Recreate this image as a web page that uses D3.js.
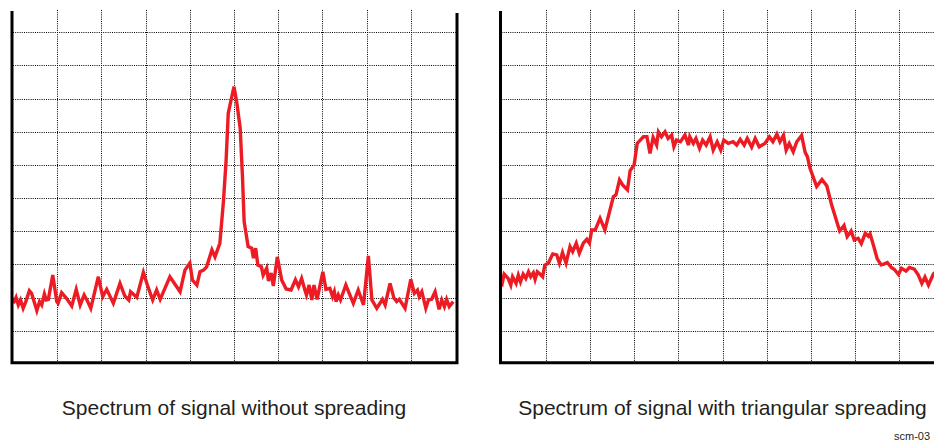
<!DOCTYPE html>
<html lang="en">
<head>
  <meta charset="utf-8">
  <script src="https://d3js.org/d3.v7.min.js"></script>
  <style>
    body {
      margin: 0;
      background: #fff;
    }
    #chart text {
      font-family: "Liberation Sans", Arial, Helvetica, sans-serif;
      fill: #231f20;
    }
    .grid line {
      stroke: #000;
      stroke-width: 1;
      stroke-dasharray: 1, 1.2;
    }
    .frame {
      fill: none;
      stroke: #000;
      stroke-width: 3;
    }
    .trace {
      fill: none;
      stroke: #ed1c24;
      stroke-width: 3.4;
      stroke-linejoin: miter;
    }
    .caption {
      font-size: 21px;
    }
    .code {
      font-size: 11px;
    }
  </style>
</head>
<body>
  <svg id="chart" width="934" height="442"></svg>
  <script>
    // spectrum traces, x and y in screen divisions (10 x 10 grid)
    var plainSpectrum = [
      [0.01,1.83],[0.07,2.01],[0.12,1.78],[0.17,1.93],[0.23,1.68],[0.29,1.88],[0.37,2.21],[0.42,2.13],
      [0.54,1.61],[0.60,1.88],[0.65,1.78],[0.71,2.11],[0.75,1.93],[0.80,1.95],[0.90,2.68],[0.99,1.88],
      [1.02,1.83],[1.10,2.15],[1.21,1.98],[1.33,1.75],[1.43,2.25],[1.52,1.78],[1.61,2.08],[1.68,1.91],
      [1.76,1.68],[1.93,2.63],[2.03,2.03],[2.12,2.25],[2.27,1.83],[2.42,2.43],[2.53,2.05],[2.62,1.93],
      [2.66,2.18],[2.80,2.01],[2.95,2.76],[3.04,2.38],[3.16,1.93],[3.25,2.23],[3.33,1.95],[3.55,2.63],
      [3.78,2.18],[3.89,2.83],[4.00,3.04],[4.06,2.53],[4.16,2.38],[4.23,2.78],[4.31,2.83],[4.38,2.93],
      [4.50,3.44],[4.57,3.23],[4.68,3.64],[4.76,4.89],[4.82,6.10],[4.87,7.56],[5.00,8.36],[5.06,7.91],
      [5.14,7.11],[5.19,5.70],[5.23,4.29],[5.32,3.54],[5.40,3.49],[5.44,3.19],[5.49,3.49],[5.54,2.98],
      [5.62,2.93],[5.66,2.68],[5.74,2.89],[5.78,2.50],[5.84,2.74],[5.89,2.35],[5.98,3.23],[6.08,2.53],
      [6.18,2.26],[6.29,2.23],[6.39,2.54],[6.46,2.33],[6.53,2.58],[6.61,2.20],[6.64,2.08],[6.70,2.38],
      [6.76,1.93],[6.81,2.38],[6.88,1.95],[7.01,2.78],[7.08,2.25],[7.17,2.28],[7.23,2.03],[7.27,2.18],
      [7.31,1.88],[7.36,2.08],[7.41,1.93],[7.53,2.38],[7.70,1.83],[7.81,2.23],[7.93,1.78],[8.04,3.26],
      [8.12,1.93],[8.23,1.68],[8.36,1.95],[8.42,1.78],[8.53,2.43],[8.62,1.98],[8.68,1.88],[8.74,1.95],
      [8.87,1.68],[9.00,2.55],[9.08,2.13],[9.15,2.23],[9.19,2.03],[9.25,2.18],[9.34,1.68],[9.40,1.93],
      [9.47,1.95],[9.55,2.18],[9.64,1.65],[9.70,1.93],[9.76,1.73],[9.81,1.95],[9.87,1.73],[9.96,1.88]
    ];

    var spreadSpectrum = [
      [0.00,2.33],[0.06,2.71],[0.15,2.58],[0.21,2.38],[0.25,2.63],[0.33,2.43],[0.38,2.68],[0.43,2.48],
      [0.49,2.71],[0.55,2.58],[0.61,2.78],[0.66,2.63],[0.72,2.75],[0.76,2.55],[0.81,2.78],[0.87,2.71],
      [0.93,2.63],[0.98,2.98],[1.06,3.04],[1.16,3.32],[1.25,3.29],[1.31,3.04],[1.38,3.36],[1.46,3.04],
      [1.55,3.54],[1.61,3.39],[1.69,3.64],[1.76,3.34],[1.85,3.64],[1.93,3.76],[1.99,3.64],[2.04,4.04],
      [2.12,4.04],[2.23,4.39],[2.34,4.04],[2.53,5.04],[2.59,5.10],[2.67,5.55],[2.74,5.40],[2.85,5.25],
      [2.91,5.83],[3.00,6.00],[3.07,6.65],[3.21,6.85],[3.29,6.85],[3.36,6.35],[3.43,6.83],[3.51,6.60],
      [3.55,7.00],[3.62,6.85],[3.70,7.00],[3.77,6.80],[3.85,6.90],[3.90,6.55],[3.96,6.75],[4.05,6.70],
      [4.15,6.90],[4.23,6.60],[4.26,6.85],[4.34,6.65],[4.40,6.80],[4.48,6.50],[4.55,6.75],[4.63,6.60],
      [4.72,6.85],[4.79,6.45],[4.88,6.70],[4.96,6.45],[5.03,6.75],[5.13,6.65],[5.24,6.70],[5.32,6.60],
      [5.40,6.77],[5.49,6.60],[5.56,6.80],[5.66,6.54],[5.74,6.80],[5.83,6.55],[5.96,6.65],[6.06,6.85],
      [6.14,6.70],[6.23,6.93],[6.30,6.70],[6.38,6.90],[6.44,6.45],[6.51,6.65],[6.60,6.40],[6.68,6.70],
      [6.79,6.89],[6.87,6.38],[6.92,6.25],[6.98,5.90],[7.13,5.35],[7.25,5.56],[7.36,5.37],[7.47,4.79],
      [7.65,4.01],[7.75,4.18],[7.82,3.84],[7.91,4.01],[7.98,3.74],[8.07,3.79],[8.14,3.63],[8.23,3.94],
      [8.30,3.85],[8.34,3.92],[8.42,3.56],[8.50,3.17],[8.59,2.99],[8.65,3.01],[8.73,3.06],[8.82,2.91],
      [8.89,2.85],[8.98,2.70],[9.05,2.89],[9.15,2.80],[9.23,2.91],[9.34,2.86],[9.43,2.68],[9.51,2.43],
      [9.58,2.62],[9.66,2.38],[9.77,2.71],[9.85,2.80]
    ];

    var vTicks = [1, 2, 3, 4, 5, 6, 7, 8, 9];
    var hTicks = [1, 2, 3, 4, 5, 6, 7, 8, 9, 10];
    var captions = ["Spectrum of signal without spreading", "Spectrum of signal with triangular spreading"];
    var figureCode = "scm-03";

    var svg = d3.select("#chart");

    var panels = [
      { left: 13, right: 455, data: plainSpectrum, caption: captions[0], closed: true },
      { left: 501.5, right: 943.5, data: spreadSpectrum, caption: captions[1], closed: false }
    ];

    var y = d3.scaleLinear()
      .domain([0, 10])
      .range([364, 32.3]);

    var plotTop = 10;

    panels.forEach(function(p) {
      var x = d3.scaleLinear()
        .domain([0, 10])
        .range([p.left, p.right]);

      var g = svg.append("g");

      var grid = g.append("g").attr("class", "grid");

      grid.selectAll(".v")
        .data(vTicks)
        .enter().append("line")
          .attr("class", "v")
          .attr("x1", function(d) { return Math.round(x(d)) + 0.5; })
          .attr("x2", function(d) { return Math.round(x(d)) + 0.5; })
          .attr("y1", plotTop)
          .attr("y2", y(0) - 2);

      grid.selectAll(".h")
        .data(hTicks)
        .enter().append("line")
          .attr("class", "h")
          .attr("x1", x(0))
          .attr("x2", x(10) + 2)
          .attr("y1", function(d) { return Math.round(y(d)) + 0.5; })
          .attr("y2", function(d) { return Math.round(y(d)) + 0.5; });

      var line = d3.line()
        .x(function(d) { return x(d[0]); })
        .y(function(d) { return y(d[1]); });

      g.append("path")
        .datum(p.data)
        .attr("class", "trace")
        .attr("d", line);

      // axes frame: left, bottom and (first panel only) right edge
      var fx0 = x(0) - 1, fx1 = x(10) + 2, fy = y(0) - 1.3;
      var d = "M" + fx0 + "," + (plotTop + 1) + "V" + fy + "H" + fx1;
      if (p.closed) d += "V" + (plotTop + 3);
      g.append("path")
        .attr("class", "frame")
        .attr("d", d);

      g.append("text")
        .attr("class", "caption")
        .attr("x", x(5))
        .attr("y", 415)
        .attr("text-anchor", "middle")
        .text(p.caption);
    });

    svg.append("text")
      .attr("class", "code")
      .attr("x", 894)
      .attr("y", 440)
      .text(figureCode);
  </script>
</body>
</html>
